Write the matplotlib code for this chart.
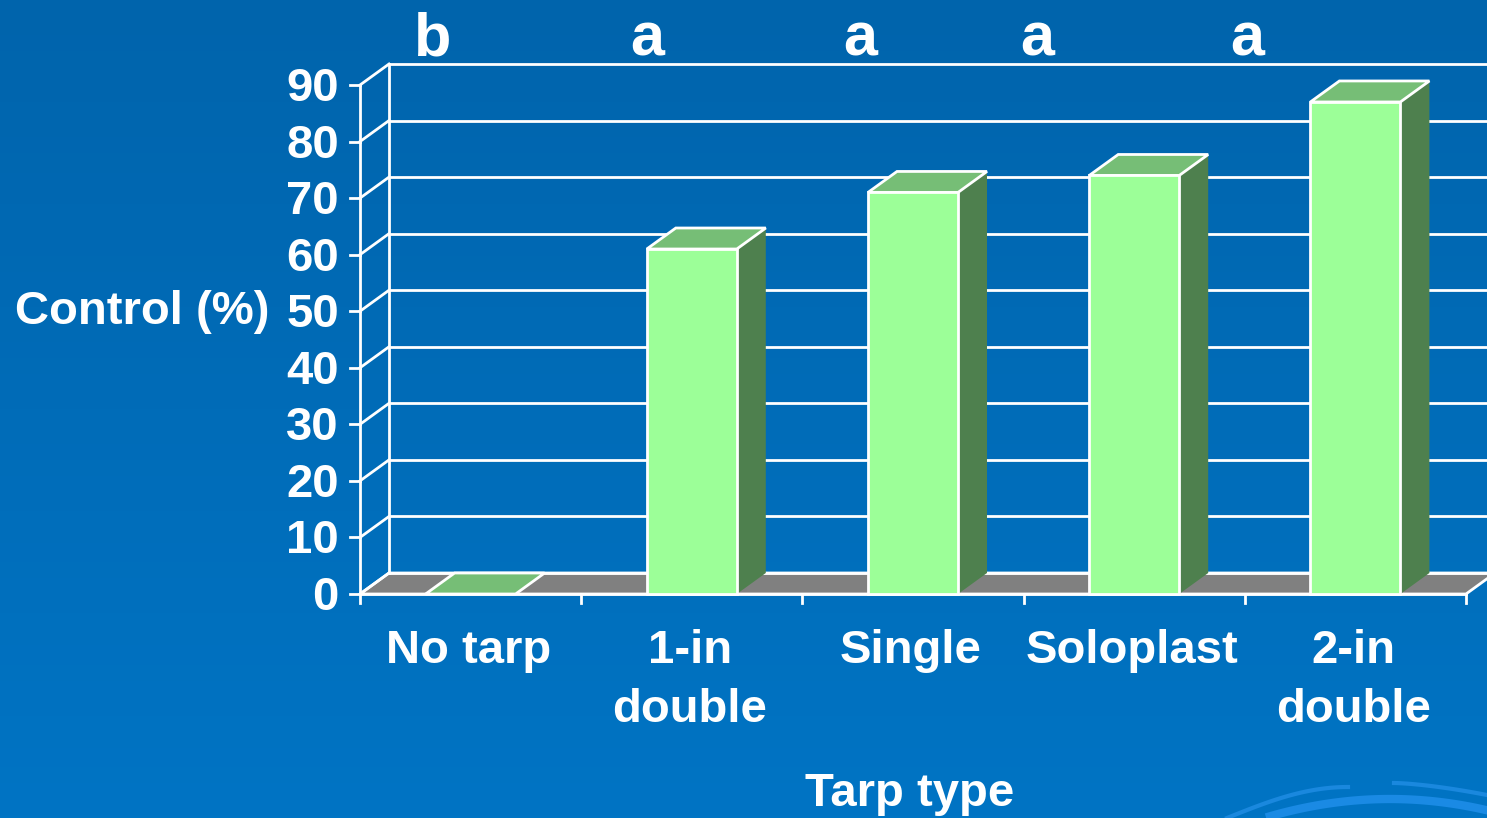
import numpy as np
import matplotlib
matplotlib.use("Agg")
import matplotlib.pyplot as plt
from matplotlib.patches import Polygon, Rectangle
from matplotlib.colors import LinearSegmentedColormap

# data
categories = ["No tarp", "1-in\ndouble", "Single", "Soloplast", "2-in\ndouble"]
control = [0, 61, 71, 74, 87]
letters = ["b", "a", "a", "a", "a"]
letter_x = [0.33, 1.30, 2.26, 3.06, 4.01]
yticks = list(range(0, 100, 10))

# style
front_col = "#9CFF98"
top_col = "#76BE76"
side_col = "#4E804E"
floor_col = "#808080"
font = "Liberation Sans"

W, H = 1487, 818
fig = plt.figure(figsize=(W / 100, H / 100), dpi=100)

# background gradient
bg = fig.add_axes([0, 0, 1, 1], zorder=-10)
cmap = LinearSegmentedColormap.from_list("bgblue", ["#0064AC", "#0074C4"])
bg.imshow(np.linspace(0, 1, 256).reshape(-1, 1), aspect="auto", cmap=cmap,
          extent=[0, 1, 0, 1], origin="upper")
# decorative swooshes, bottom right
t = np.linspace(0, 1, 100)
bg.plot(1227 / W + t * (1348 - 1227) / W, (818 - (818 - 31 * np.sin(t * np.pi / 2))) / H,
        color="#1A88DE", lw=3)
bg.plot(1394 / W + t * (W - 1394) / W, (818 - (783 + 12 * t ** 1.5)) / H, color="#1A88DE", lw=3)
xs = np.linspace(1270, W, 100)
bg.plot(xs / W, (818 - (799 + 0.0012 * (xs - 1390) ** 2)) / H, color="#1A8AE4", lw=6)
bg.set_xlim(0, 1)
bg.set_ylim(0, 1)
bg.axis("off")

# main axes = front plane of the 3D box
ax = fig.add_axes([360 / W, (H - 594) / H, 1106 / W, 509 / H])
n = len(categories)
ax.set_xlim(0, n)
ax.set_ylim(0, 90)
ax.axis("off")

px_x = 1106 / n          # pixels per category
px_y = 509 / 90          # pixels per unit
dx, dy = 29 / px_x, 21 / px_y
bw = 90 / px_x
lw = 2
fs = 34

# floor
ax.add_patch(Polygon([(0, 0), (n, 0), (n + dx, dy), (dx, dy)], closed=True,
                     facecolor=floor_col, edgecolor="white", lw=lw, clip_on=False, zorder=1))

# back wall and side wall
for v in yticks:
    ax.plot([dx, n + dx], [v + dy, v + dy], color="white", lw=lw, clip_on=False, zorder=1)
    ax.plot([0, dx], [v, v + dy], color="white", lw=lw, clip_on=False, zorder=1)
    ax.plot([-10 / px_x, 0], [v, v], color="white", lw=lw, clip_on=False, zorder=1)
    ax.text(-21 / px_x, v - 4 / px_y, str(v), ha="right", va="center", color="white",
            fontsize=fs, fontweight="bold", family=font)
ax.plot([dx, dx], [dy, 90 + dy], color="white", lw=lw, clip_on=False, zorder=1)
ax.plot([0, 0], [0, 90], color="white", lw=lw, clip_on=False, zorder=1)
ax.plot([0, n], [0, 0], color="white", lw=lw, clip_on=False, zorder=1)
for i in range(n + 1):
    ax.plot([i, i], [0, -9 / px_y], color="white", lw=lw, clip_on=False, zorder=1)

# bars
for i, v in enumerate(control):
    x0 = i + 0.5 - bw / 2
    if v > 0:
        ax.add_patch(Polygon([(x0 + bw, 0), (x0 + bw + dx, dy), (x0 + bw + dx, v + dy), (x0 + bw, v)],
                             closed=True, facecolor=side_col, edgecolor="none", clip_on=False, zorder=2))
    ax.add_patch(Polygon([(x0, v), (x0 + bw, v), (x0 + bw + dx, v + dy), (x0 + dx, v + dy)],
                         closed=True, facecolor=top_col, edgecolor="white", lw=lw, clip_on=False, zorder=3))
    if v > 0:
        ax.add_patch(Rectangle((x0, 0), bw, v, facecolor=front_col, edgecolor="white", lw=lw,
                               clip_on=False, zorder=4))
    ax.text(i + 0.5 - 2 / px_x, -35 / px_y, categories[i], ha="center", va="top", color="white",
            fontsize=fs, fontweight="bold", family=font, linespacing=1.45)

# significance letters
for lx, s in zip(letter_x, letters):
    ax.text(lx, (594 - 55) / px_y, s, ha="center", va="baseline", color="white",
            fontsize=44, fontweight="bold", family=font)

fig.text(15 / W, 1 - 312 / H, "Control (%)", ha="left", va="center", color="white",
         fontsize=fs, fontweight="bold", family=font)
fig.text(910 / W, 1 - 794 / H, "Tarp type", ha="center", va="center", color="white",
         fontsize=fs, fontweight="bold", family=font)

fig.savefig("out.png", dpi=100)
